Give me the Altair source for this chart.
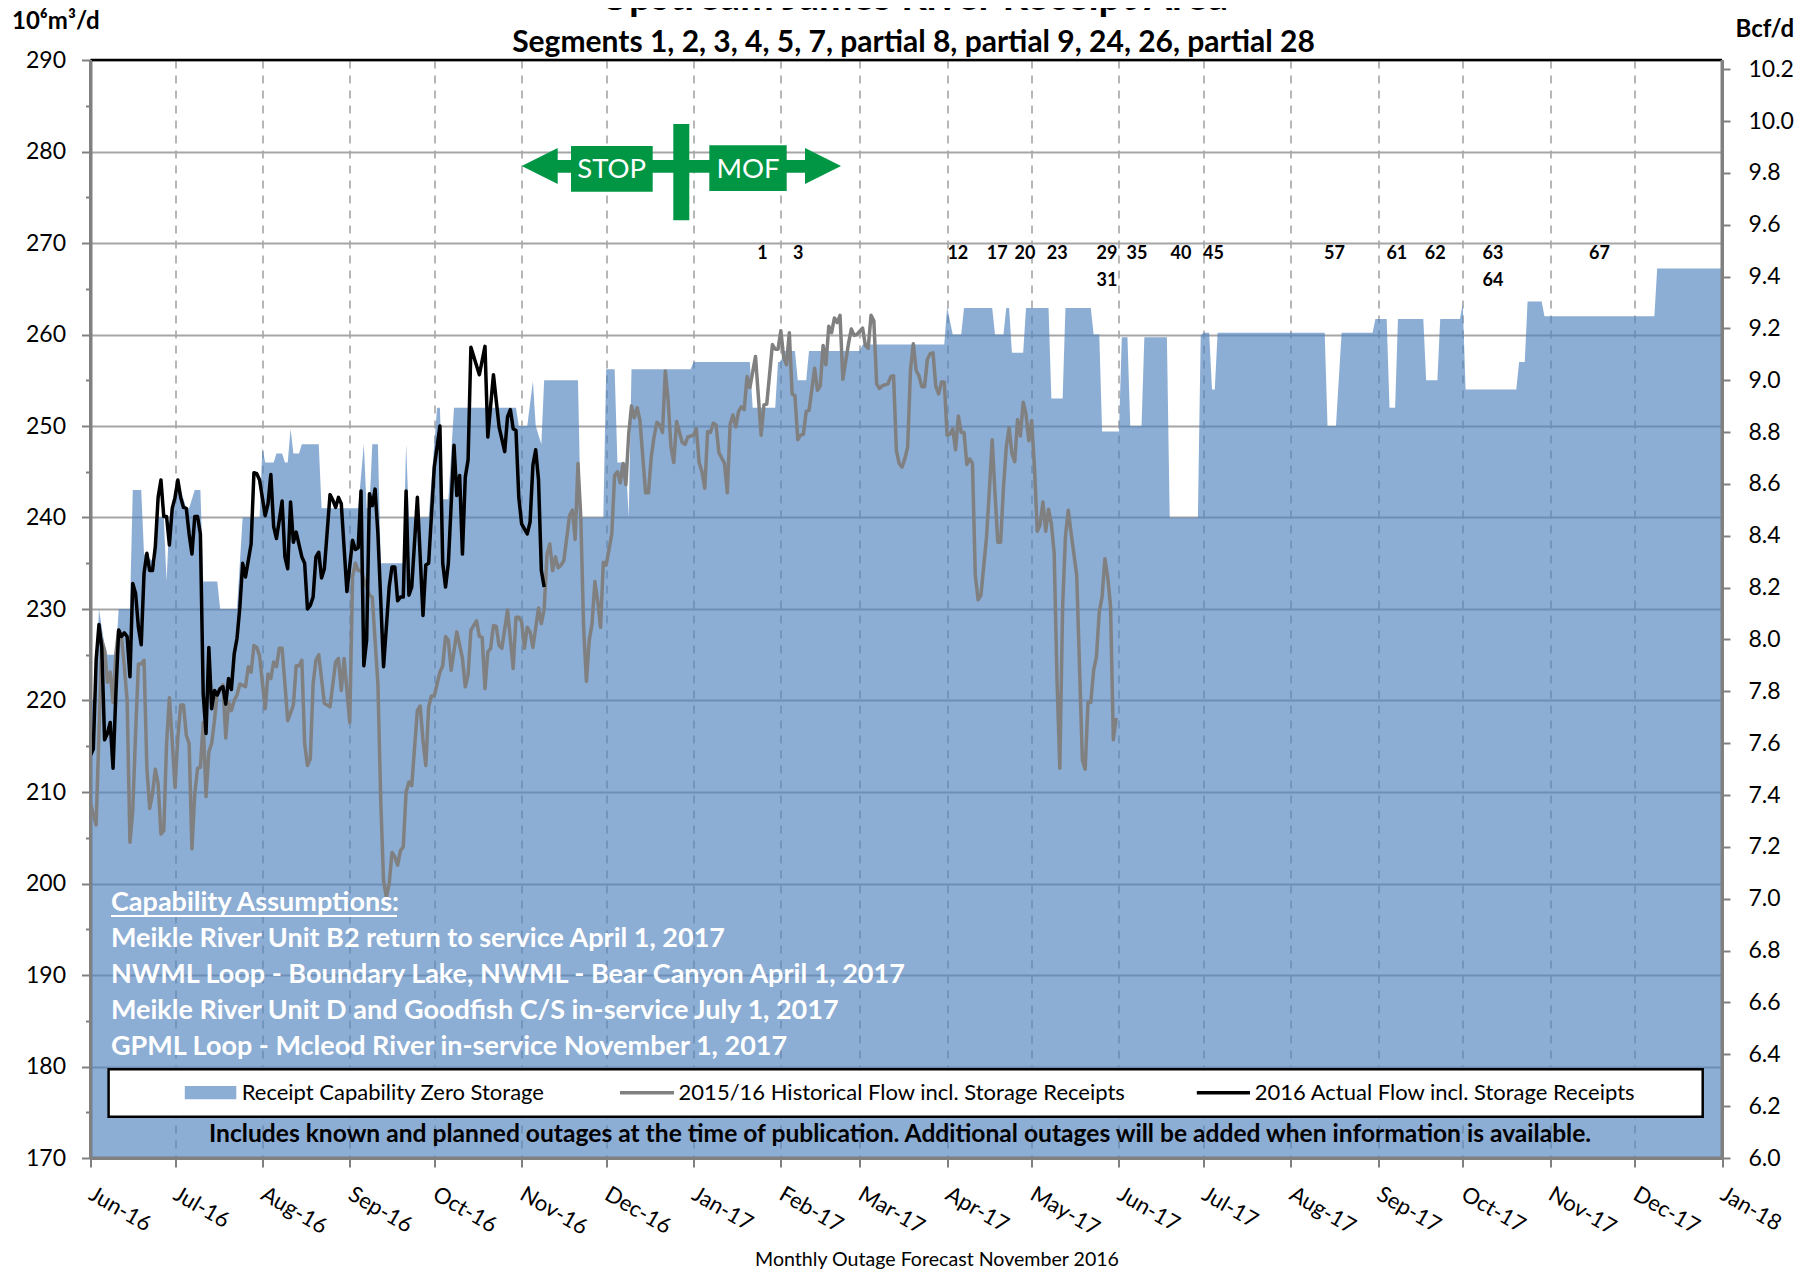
import altair as alt
import pandas as pd

FONT = "Lato"
BLUE = "#4F81BD"
GREY = "#808080"
GRID = "#a6a6a6"
GREEN = "#009644"

START = pd.Timestamp("2016-06-01")

# (day since 1 Jun 2016, 10^6 m3/d)
cap_days = [0,1,2,3,4,5,6,9,10,14,15,18,19,23,24,26,27,28,30,32,34,35,37,39,40,45,46,52,54,60,61,62,65,66,68,69,70,71,72,74,75,81,82,95,97,98,99,100,102,103,111,112,113,120,123,124,125,127,129,151,152,155,157,158,160,161,173,174,182,183,186,187,190,191,192,213,214,234,235,243,244,245,246,250,251,254,255,273,274,303,304,306,309,310,320,321,324,325,326,327,331,332,340,341,345,346,355,356,358,359,365,366,368,369,373,374,382,383,393,394,395,397,398,399,400,438,439,442,444,455,456,460,461,463,464,473,474,478,479,486,487,488,506,507,509,510,515,516,555,556,579]
cap_vals = [220,220,222,230,228,226,225,225,230,230,243,243,236,235,240,240,233,240,243,243,241,241,243,243,233,233,230,230,240,240,247.6,246,246,247,247,246,246,249.7,247,247,248,248,241,241,248,241,241,248,248,235,235,248,240,240,252,252,242,242,252,252,250,250,254.9,250,248,255,255,240,240,256.2,256.2,246,246,240,256.2,256.2,257,257,252,252,257,257,258.2,258.2,255,255,258.2,258.2,258.9,258.9,263,260,260,262.9,262.9,260,260,262.9,262.9,258,258,262.9,262.9,253,253,262.9,262.9,260,260,249.4,249.4,259.7,259.7,250,250,259.7,259.7,240,240,259.9,260.2,260.2,254,254,260.2,260.2,250,250,260.2,260.2,261.7,261.7,252,252,261.7,261.7,255,255,261.7,261.7,263.4,254,254,257,257,263.6,263.6,262,262,267.2,267.2]

hist_days = [0,1,2,3,4,5,6,7,8,9,10,11,12,13,14,15,16,17,18,19,20,21,22,23,24,25,26,27,28,29,30,31,32,33,34,35,36,37,38,39,40,41,42,43,44,45,46,47,48,49,50,51,52,53,55,56,57,58,59,60,62,63,64,65,66,67,68,69,70,72,73,74,75,76,77,78,79,80,81,83,85,87,88,89,90,92,93,94,95,96,99,100,102,103,104,105,106,107,108,109,110,111,112,113,114,116,117,118,119,120,121,122,124,125,126,127,128,130,132,133,134,135,137,138,139,140,141,142,143,144,145,146,148,150,151,152,153,154,155,156,157,159,160,161,162,163,164,165,166,167,168,170,171,172,173,174,175,176,177,178,179,180,181,182,183,185,186,187,188,189,190,191,192,193,194,195,197,198,199,200,201,202,203,204,205,206,207,208,210,211,212,214,215,216,217,218,219,220,221,222,223,225,226,227,228,229,230,231,232,233,234,236,238,239,240,242,243,244,245,246,247,248,249,250,251,252,253,254,255,257,258,259,260,261,262,263,264,265,266,267,269,270,271,272,274,275,276,277,278,279,280,281,283,284,285,286,287,288,289,290,291,292,293,294,295,296,297,298,299,300,301,302,303,304,305,306,307,308,309,310,311,312,313,314,315,316,318,319,320,321,322,323,324,325,326,327,328,329,330,331,332,333,334,335,336,337,338,339,340,341,342,343,344,345,346,347,348,350,352,353,354,355,356,357,358,359,360,361,362,363,364]
hist_vals = [208.7,207.6,206.4,216.4,226.6,225.5,222,223.1,219.8,225.1,227.7,226.9,223.7,220,204.5,208,216.4,224,224,224.4,212.7,208.2,209.8,212.5,210.9,205.4,205.8,215.3,220.3,215.6,210.5,216,219.5,219.5,216.2,215.3,203.8,209.8,212.6,212.7,217.6,209.5,214.4,215.3,217.8,220.9,221.3,221.7,215.9,219.8,218.9,220,220.6,221.8,221.5,223.7,223.1,226,225.8,224.9,219.1,222.9,222.4,224.2,223.7,225.7,225.7,221.8,217.8,219.5,223.8,223.8,224.4,215.3,212.9,213.6,221.8,224.4,225,219.7,219.3,224.2,224.6,221.1,224.6,217.6,233.5,235,234.2,234.2,231.5,231.3,221.8,209.1,200.3,198.5,200,203.4,202.9,202,203.6,204,210,211.1,210.7,218.9,219.4,215.6,212.9,219.3,220.5,220.5,223.1,223.8,227,226.6,223.3,227.5,224.6,221.5,222.8,227.7,228.7,227,226.9,221.3,225.3,225.7,228.2,228.1,226,225.7,229.9,223.5,229.1,229.1,228.6,225.7,228,227.5,225.8,230.1,228.4,230,235.9,237.1,234.2,235.7,234.5,234.8,235.3,240.2,240.8,237.6,245.9,240,228,222.1,226.6,228.4,233,230.9,228,235.1,234.8,238.2,244.6,245,243.8,245.9,243.6,249.1,252.2,250.9,252,250.6,242.7,242.7,246.6,248.8,250.4,250.1,249.3,256,252.8,247.7,246,250.5,248.2,248,248.8,249,249.7,246,245,243.2,249.4,249.3,250.3,250.1,247.1,245.9,242.7,250.2,251.2,249.9,251.6,252.1,251.8,255.4,254.2,257.6,249,252.3,252.4,258.9,258.4,258.4,260.4,257.5,256.7,260.2,253.5,253.3,248.5,249,249.1,251.6,251.7,256.3,253.9,254.4,258.8,256.7,260.9,260.2,261.8,261.3,262.1,255.1,259,260.6,259.9,260,260.7,258.8,258.5,262.1,261.5,254.6,254.1,254.4,254.6,255.4,255.5,247.3,245.9,245.5,246.4,247.7,256.1,259,256.1,255.5,254.3,254.3,257.3,257.9,258,254.3,253.5,254.8,254.8,249,249.1,249.7,247.4,251.1,249.3,249.3,245.8,246.4,245.9,233.7,231,231.5,237.9,243,248.5,242.6,237.3,237.3,243.3,247.7,249.8,247,246.1,250.7,248.9,252.6,251.3,248.4,250.6,245.5,238.5,239.2,241.7,238.5,240.9,239.3,236.1,222.3,212.6,230.3,237.9,240.8,238.3,233.7,213.5,212.5,219.8,219.8,223.3,224.8,229.7,231.3,235.5,233.5,230.3,215.7,218.1]

actual_days = [0,1,2,3,4,5,6,7,8,9,10,11,12,13,14,15,16,17,18,19,20,21,22,23,24,25,26,27,28,29,30,31,32,33,34,35,36,37,38,39,40,41,42,43,44,45,46,47,48,49,50,51,52,53,54,55,56,57,58,59,60,62,63,64,65,66,67,68,69,70,71,72,73,75,76,77,78,79,80,81,82,83,85,86,87,88,89,91,93,94,95,96,97,98,99,100,101,102,104,106,107,108,109,110,111,112,113,114,116,118,119,120,122,124,125,126,127,129,130,131,132,133,134,135,138,140,141,143,145,147,148,149,150,151,152,153,155,156,157,158,159,160,161]
actual_vals = [214,214.7,224.4,228.3,225.8,215.7,216.4,217.6,212.6,220.7,227.7,227,227.4,227,222.6,232.8,231.7,228,226.1,233.9,236.1,234.2,234.2,236.8,242.2,244.1,240.1,240.1,237,241,242.2,244.1,242.2,241.1,241,238.2,236,240.1,240.1,238.2,220.7,216.4,225.8,219.1,221.1,220.6,221.3,221.5,219.6,222.4,221.2,225.1,226.8,230.2,235,233.5,235.3,237.1,244.9,244.8,244.1,240.2,241.5,244.7,239,237.7,239.7,241.8,235.7,234.4,241.7,237.3,238.4,235.7,235,230,230.4,231.3,235.7,236.2,233.4,234.4,242.5,241.9,241.1,242.2,241.5,231.9,237.5,236.5,236.7,242.9,223.8,226.6,242.6,241.3,243.1,238.2,223.7,232.4,234.6,234.6,230.9,231.3,231.3,242.9,231.5,232.4,242.2,229.3,234.8,235,245.5,250,235,232.4,235,247.9,242.4,244.6,236,244.4,246.3,258.6,255.6,258.7,248.8,255.6,249.9,247.2,251,251.8,249.7,249.5,242.2,239.3,238.2,239.5,245.7,247.4,244.1,234.2,232.4]

outage_labels = ["1","3","12","17","20","23","29","35","40","45","57","61","62","63","67","31","64"]
outage_days = [238.5,251.2,307.8,321.8,331.6,343.1,360.7,371.4,387,398.5,441.5,463.6,477.2,497.7,535.5,360.7,497.7]
outage_vals = [268.8,268.8,268.8,268.8,268.8,268.8,268.8,268.8,268.8,268.8,268.8,268.8,268.8,268.8,268.8,265.9,265.9]

left_major = [170,180,190,200,210,220,230,240,250,260,270,280,290]
left_minor = [175,185,195,205,215,225,235,245,255,265,275,285]
right_ticks = [6.0,6.2,6.4,6.6,6.8,7.0,7.2,7.4,7.6,7.8,8.0,8.2,8.4,8.6,8.8,9.0,9.2,9.4,9.6,9.8,10.0,10.2]
months = [(2016,m) for m in range(6,13)] + [(2017,m) for m in range(1,13)] + [(2018,1)]

assumptions = [
    "Meikle River Unit B2 return to service April 1, 2017",
    "NWML Loop - Boundary Lake, NWML - Bear Canyon April 1, 2017",
    "Meikle River Unit D and Goodfish C/S in-service July 1, 2017",
    "GPML Loop - Mcleod River in-service  November 1, 2017",
]

W, H = 1631.5, 1098
OX, OY = 90.5, 60


def px(x):
    return x - OX


def py(y):
    return y - OY


def frame(days, vals):
    return pd.DataFrame({"d": [(START + pd.Timedelta(days=float(d))).strftime("%Y-%m-%dT%H:%M:%S") for d in days], "v": vals})


def dt(y, m):
    return alt.DateTime(year=y, month=m, date=1)


xscale = alt.Scale(domain=[dt(2016, 6), dt(2018, 1)])
yscale = alt.Scale(domain=[170, 290], nice=False, zero=False)
ONE = alt.Data(values=[{"a": 1}])


def label(t, x, y, size, weight="normal", color="black", align="left", angle=0):
    return alt.Chart(ONE).mark_text(
        font=FONT, fontSize=size, fontWeight=weight, color=color, align=align, baseline="middle"
    ).encode(x=alt.value(px(x)), y=alt.value(py(y)), text=alt.value(t))


def box(x1, x2, y1, y2, fill, **kw):
    return alt.Chart(ONE).mark_rect(fill=fill, **kw).encode(
        x=alt.value(px(x1)), x2=alt.value(px(x2)), y=alt.value(py(y1)), y2=alt.value(py(y2)))


xaxis = alt.Axis(
    values=[dt(y, m) for y, m in months], format="%b-%y", title=None, grid=True,
    gridColor=GRID, gridDash=[8, 7], gridWidth=1.6, labelAngle=30, labelAlign="left",
    labelBaseline="middle", labelPadding=25, labelFont=FONT, labelFontSize=22,
    labelColor="black", labelOverlap=False, labelBound=False, labelFlush=False,
    tickColor=GREY, tickWidth=2, tickSize=9, domainColor=GREY, domainWidth=3,
)
X = alt.X("d:T", scale=xscale, axis=xaxis)
Y = alt.Y("v:Q", scale=yscale, axis=None)
yaxis_major = alt.Axis(
    values=left_major, title=None, orient="left", grid=True, gridColor=GRID, gridWidth=2,
    labelFont=FONT, labelFontSize=23, labelColor="black", labelPadding=16, labelOverlap=False,
    tickColor=GREY, tickWidth=2, tickSize=9, domainColor=GREY, domainWidth=3,
)
yaxis_minor = alt.Axis(
    values=left_minor, title=None, orient="left", grid=False, labels=False, domain=False,
    tickColor=GREY, tickWidth=2, tickSize=5,
)
right_scale = alt.Scale(domain=[6.0, 290 / 170 * 6.0], nice=False, zero=False)
yaxis_right = alt.Axis(
    values=right_ticks, title=None, orient="right", grid=False, format=".1f",
    labelFont=FONT, labelFontSize=23, labelColor="black", labelPadding=18, labelOverlap=False,
    tickColor=GREY, tickWidth=2, tickSize=8, domainColor=GREY, domainWidth=3,
)

area = alt.Chart(frame(cap_days, cap_vals)).mark_area(color=BLUE, opacity=0.65, interpolate="linear", clip=True).encode(
    x=X,
    y=alt.Y("v:Q", scale=yscale, axis=yaxis_major),
)
minor = alt.Chart(pd.DataFrame({"v": [290]})).mark_rule(color="black", strokeWidth=2.6).encode(
    y=alt.Y("v:Q", scale=yscale, axis=yaxis_minor),
)
right = alt.Chart(pd.DataFrame({"v": [6.0]})).mark_rule(opacity=0).encode(
    y=alt.Y("v:Q", scale=right_scale, axis=yaxis_right),
)
hist = alt.Chart(frame(hist_days, hist_vals)).mark_line(color=GREY, strokeWidth=3.5, strokeJoin="round").encode(x=X, y=Y)
actual = alt.Chart(frame(actual_days, actual_vals)).mark_line(color="black", strokeWidth=3.5, strokeJoin="round").encode(x=X, y=Y)

outage_df = frame(outage_days, outage_vals)
outage_df["t"] = outage_labels
outages = alt.Chart(outage_df).mark_text(font=FONT, fontSize=18, fontWeight="bold", color="black").encode(x=X, y=Y, text="t:N")

arrow_path = "M -1 0 L 1 -1 L 1 1 Z"
arrow_path_r = "M 1 0 L -1 -1 L -1 1 Z"

layers = [
    area, minor, right, hist, actual, outages,
    # stop / MOF marker
    box(550, 815, 160, 172.7, GREEN),
    box(571, 652.7, 146, 191.7, GREEN),
    box(709.3, 786.7, 145.3, 191, GREEN),
    box(673.3, 689.3, 124, 220.3, GREEN),
    alt.Chart(ONE).mark_point(shape=arrow_path, size=1296, filled=True, color=GREEN, opacity=1).encode(
        x=alt.value(px(539.7)), y=alt.value(py(166))),
    alt.Chart(ONE).mark_point(shape=arrow_path_r, size=1296, filled=True, color=GREEN, opacity=1).encode(
        x=alt.value(px(823)), y=alt.value(py(166))),
    label("STOP", 611.7, 170, 27.5, color="white", align="center"),
    label("MOF", 748, 170, 27.5, color="white", align="center"),
    # titles
    label("Upstream James River Receipt Area", 914, -2, 40, "bold", align="center"),
    label("Segments 1, 2, 3, 4, 5, 7, partial 8, partial 9, 24, 26, partial 28", 913.5, 43, 30, "bold", align="center"),
    label("10⁶m³/d", 12, 22, 24, "bold"),
    label("Bcf/d", 1735.5, 30, 24, "bold"),
    # assumptions
    label("Capability Assumptions:", 111, 903, 27, "bold", color="white"),
    alt.Chart(ONE).mark_rule(color="white", strokeWidth=2).encode(
        x=alt.value(px(111)), x2=alt.value(px(397)), y=alt.value(py(916))),
]
for i, t in enumerate(assumptions):
    layers.append(label(t, 111, [939, 975, 1011, 1047][i], 27, "bold", color="white"))

layers += [
    # legend box
    box(108.6, 1702.7, 1069.3, 1116.7, "white", stroke="black", strokeWidth=2.5),
    box(184.8, 236.3, 1086, 1099.3, BLUE, opacity=0.65),
    label("Receipt Capability Zero Storage", 241.7, 1092.7, 22),
    alt.Chart(ONE).mark_rule(color=GREY, strokeWidth=3.4).encode(
        x=alt.value(px(620)), x2=alt.value(px(674)), y=alt.value(py(1092.7))),
    label("2015/16 Historical Flow incl. Storage Receipts", 678.6, 1092.7, 22),
    alt.Chart(ONE).mark_rule(color="black", strokeWidth=3.4).encode(
        x=alt.value(px(1196.8)), x2=alt.value(px(1250)), y=alt.value(py(1092.7))),
    label("2016 Actual Flow incl. Storage Receipts", 1254.8, 1092.7, 22),
    label("Includes known and planned outages at the time of publication. Additional outages will be added when information is available.", 209, 1135, 24.6, "bold"),
    label("Monthly Outage Forecast November 2016", 937, 1260, 19.6, align="center"),
    # frame edges
    alt.Chart(ONE).mark_rule(color=GREY, strokeWidth=3).encode(x=alt.value(W)),
    alt.Chart(ONE).mark_rule(color=GREY, strokeWidth=3).encode(x=alt.value(0)),
    alt.Chart(ONE).mark_rule(color=GREY, strokeWidth=3).encode(y=alt.value(H)),
]

chart = alt.layer(*layers).resolve_scale(y="independent").properties(
    width=W, height=H,
    padding={"left": OX - 8, "top": OY - 8, "right": 82, "bottom": 113},
    autosize=alt.AutoSizeParams(type="none"),
).configure_view(stroke=None)

chart.save("out.html", embed_options={"renderer": "svg", "actions": False})
